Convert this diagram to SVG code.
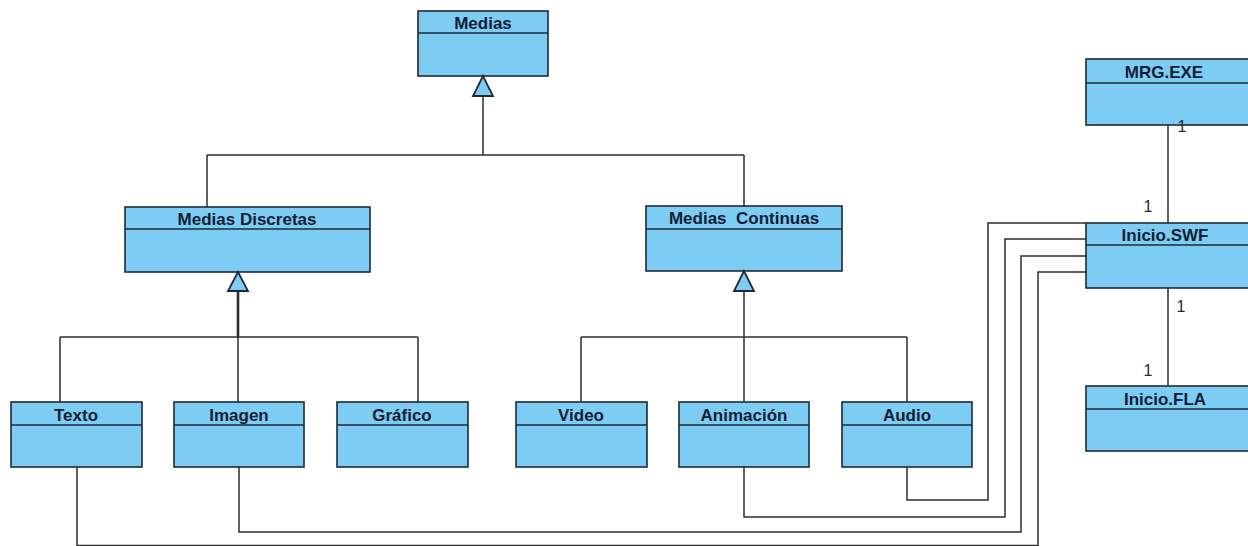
<svg xmlns="http://www.w3.org/2000/svg" width="1248" height="546" viewBox="0 0 1248 546">
<defs>
<style>
.box{fill:#7cccf4;stroke:#1f2a36;stroke-width:1.6}
.div{stroke:#1f2a36;stroke-width:1.4}
.t{font-family:"Liberation Sans",Arial,sans-serif;font-weight:bold;font-size:17px;fill:#131d33;text-anchor:middle}
.m{font-family:"Liberation Sans",Arial,sans-serif;font-size:16px;fill:#2a2a2a;text-anchor:middle}
.c{fill:none;stroke:#2e2e2e;stroke-width:1.5}
.tri{fill:#7cccf4;stroke:#1f2a36;stroke-width:1.8;stroke-linejoin:miter}
</style>
</defs>
<rect width="1248" height="546" fill="#ffffff"/>
<g id="medias"><rect class="box" x="418" y="11" width="130" height="65"/><line class="div" x1="418" y1="33" x2="548" y2="33"/><text class="t" x="483" y="29">Medias</text></g>
<g id="medias-discretas"><rect class="box" x="125" y="207" width="245" height="65"/><line class="div" x1="125" y1="229" x2="370" y2="229"/><text class="t" x="247" y="225">Medias Discretas</text></g>
<g id="medias-continuas"><rect class="box" x="646" y="206" width="196" height="65"/><line class="div" x1="646" y1="229" x2="842" y2="229"/><text class="t" x="744" y="224" xml:space="preserve">Medias  Continuas</text></g>
<g id="texto"><rect class="box" x="11" y="402" width="131" height="65"/><line class="div" x1="11" y1="425" x2="142" y2="425"/><text class="t" x="76" y="421">Texto</text></g>
<g id="imagen"><rect class="box" x="174" y="402" width="130" height="65"/><line class="div" x1="174" y1="425" x2="304" y2="425"/><text class="t" x="239" y="421">Imagen</text></g>
<g id="grafico"><rect class="box" x="337" y="402" width="131" height="65"/><line class="div" x1="337" y1="425" x2="468" y2="425"/><text class="t" x="402" y="421">Gráfico</text></g>
<g id="video"><rect class="box" x="516" y="402" width="131" height="65"/><line class="div" x1="516" y1="425" x2="647" y2="425"/><text class="t" x="581" y="421">Video</text></g>
<g id="animacion"><rect class="box" x="679" y="402" width="130" height="65"/><line class="div" x1="679" y1="425" x2="809" y2="425"/><text class="t" x="744" y="421">Animación</text></g>
<g id="audio"><rect class="box" x="842" y="402" width="130" height="65"/><line class="div" x1="842" y1="425" x2="972" y2="425"/><text class="t" x="907" y="421">Audio</text></g>
<g id="mrg-exe"><rect class="box" x="1086" y="59" width="170" height="66"/><line class="div" x1="1086" y1="83" x2="1256" y2="83"/><text class="t" x="1164" y="78">MRG.EXE</text></g>
<g id="inicio-swf"><rect class="box" x="1086" y="223" width="170" height="65"/><line class="div" x1="1086" y1="245" x2="1256" y2="245"/><text class="t" x="1165" y="241">Inicio.SWF</text></g>
<g id="inicio-fla"><rect class="box" x="1086" y="386" width="170" height="65"/><line class="div" x1="1086" y1="409" x2="1256" y2="409"/><text class="t" x="1165" y="405">Inicio.FLA</text></g>
<g id="connectors">
<path class="c" d="M483 96V155M207 155H744M207 155V207M744 155V206"/>
<path class="tri" d="M483 76L473 96H493Z"/>
<path class="c" d="M238 291V337" style="stroke-width:2.6"/>
<path class="c" d="M60 337H418M60 337V402M238 337V402M418 337V402"/>
<path class="tri" d="M238 272L228 291H248Z"/>
<path class="c" d="M744 291V402M581 337H907M581 337V402M907 337V402"/>
<path class="tri" d="M744 271L734 291H754Z"/>
<path class="c" d="M907 467V500H988V223H1086"/>
<path class="c" d="M744 467V517H1005V239H1086"/>
<path class="c" d="M239 467V532H1021V256H1086"/>
<path class="c" d="M77 467V545.5H1038V272H1086"/>
<path class="c" d="M1168 125V223M1168 288V386"/>
<text class="m" x="1182" y="132">1</text>
<text class="m" x="1148" y="212">1</text>
<text class="m" x="1181" y="312">1</text>
<text class="m" x="1148" y="376">1</text>
</g>
</svg>
